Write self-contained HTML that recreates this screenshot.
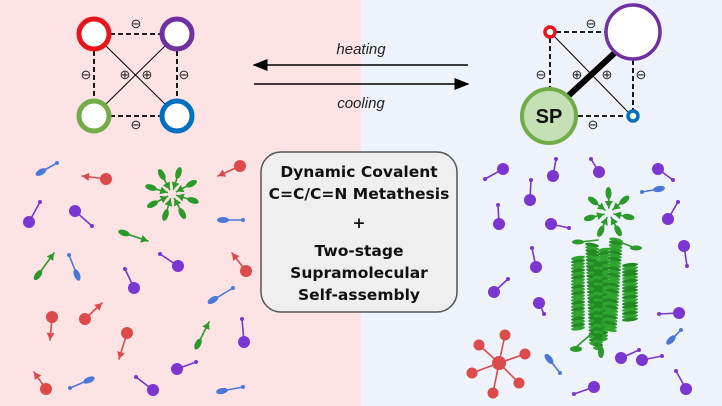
<!DOCTYPE html>
<html><head><meta charset="utf-8"><style>
html,body{margin:0;padding:0;width:722px;height:406px;overflow:hidden}
svg{display:block}
.t{font-family:"Comic Sans MS","DejaVu Sans","Liberation Sans",sans-serif;font-weight:bold;font-size:15.5px;fill:#111;text-anchor:middle}
.m{font-family:"Liberation Sans",sans-serif;font-size:13px;fill:#222;text-anchor:middle}
</style></head><body>
<svg id="s" width="722" height="406" viewBox="0 0 722 406" xmlns="http://www.w3.org/2000/svg">
<defs>
<marker id="ah" markerWidth="10" markerHeight="8" refX="9" refY="4" orient="auto"><path d="M0,0 L10,4 L0,8 Z" fill="#000"/></marker>
</defs>
<rect x="0" y="0" width="361" height="406" fill="#fde3e4"/>
<rect x="361" y="0" width="361" height="406" fill="#eef2fa"/>
<!-- left square -->
<g stroke="#000" stroke-width="1.8" stroke-dasharray="5,3" fill="none">
<line x1="110" y1="34" x2="161" y2="34"/><line x1="110" y1="116" x2="161" y2="116"/>
<line x1="94" y1="51" x2="94" y2="99"/><line x1="177" y1="51" x2="177" y2="99"/>
</g>
<g stroke="#000" stroke-width="1"><line x1="106" y1="46" x2="165" y2="104"/><line x1="165" y1="46" x2="106" y2="104"/></g>
<circle cx="94" cy="34" r="15" fill="#fff" stroke="#e8141c" stroke-width="5"/>
<circle cx="177" cy="34" r="15" fill="#fff" stroke="#7030a0" stroke-width="5"/>
<circle cx="94" cy="116" r="15" fill="#fff" stroke="#70ad47" stroke-width="5"/>
<circle cx="177" cy="116" r="15" fill="#fff" stroke="#0070c0" stroke-width="5"/>
<g class="m"><text x="136" y="28">⊖</text><text x="136" y="129">⊖</text><text x="86" y="79">⊖</text><text x="184" y="79">⊖</text><text x="125" y="79">⊕</text><text x="147" y="79">⊕</text></g>
<!-- right square -->
<g stroke="#000" stroke-width="1.8" stroke-dasharray="5,3" fill="none">
<line x1="556" y1="32" x2="612" y2="32"/><line x1="578" y1="116" x2="626" y2="116"/>
<line x1="550" y1="38" x2="550" y2="88"/><line x1="633" y1="60" x2="633" y2="110"/>
</g>
<line x1="554" y1="36" x2="628" y2="112" stroke="#000" stroke-width="1"/>
<line x1="566" y1="98" x2="620" y2="48" stroke="#000" stroke-width="6"/>
<circle cx="550" cy="32" r="5" fill="#fff" stroke="#e8141c" stroke-width="3.5"/>
<circle cx="633" cy="32" r="27" fill="#fff" stroke="#7030a0" stroke-width="3.5"/>
<circle cx="549" cy="116" r="27" fill="#c5e0b4" stroke="#70ad47" stroke-width="4"/>
<text x="549" y="123" font-family="Liberation Sans,sans-serif" font-weight="bold" font-size="20" text-anchor="middle" fill="#111">SP</text>
<circle cx="633" cy="116" r="5" fill="#fff" stroke="#0070c0" stroke-width="3.5"/>
<g class="m"><text x="591" y="28">⊖</text><text x="593" y="129">⊖</text><text x="541" y="79">⊖</text><text x="641" y="79">⊖</text><text x="577" y="79">⊕</text><text x="607" y="79">⊕</text></g>
<!-- arrows -->
<line x1="468" y1="65" x2="254" y2="65" stroke="#000" stroke-width="1.5" marker-end="url(#ah)"/>
<line x1="254" y1="84" x2="468" y2="84" stroke="#000" stroke-width="1.5" marker-end="url(#ah)"/>
<text x="361" y="54" font-family="Liberation Sans,sans-serif" font-style="italic" font-size="15" text-anchor="middle" fill="#222">heating</text>
<text x="361" y="108" font-family="Liberation Sans,sans-serif" font-style="italic" font-size="15" text-anchor="middle" fill="#222">cooling</text>
<!-- box -->
<rect x="261" y="152" width="196" height="160" rx="20" fill="#efefef" stroke="#555" stroke-width="1.5"/>
<text class="t" x="359" y="177">Dynamic Covalent</text>
<text class="t" x="359" y="199">C=C/C=N Metathesis</text>
<text class="t" x="359" y="228">+</text>
<text class="t" x="359" y="256">Two-stage</text>
<text class="t" x="359" y="278">Supramolecular</text>
<text class="t" x="359" y="300">Self-assembly</text>
<g id="mol"></g>
</svg>
<script>
var g=document.getElementById('mol'),NS='http://www.w3.org/2000/svg';
function el(t,a){var e=document.createElementNS(NS,t);for(var k in a)e.setAttribute(k,a[k]);g.appendChild(e);return e;}
function stick(x1,y1,x2,y2,c,w){el('line',{x1:x1,y1:y1,x2:x2,y2:y2,stroke:c,'stroke-width':w||1.6,'stroke-linecap':'round'});}
var P='#7b35d0',R='#dc4a4a',B='#4a78d8',G='#2b9a2b';
function purple(bx,by,dx,dy){stick(bx,by,dx,dy,P);el('circle',{cx:dx,cy:dy,r:2,fill:P});el('circle',{cx:bx,cy:by,r:6,fill:P});}
function red(bx,by,ax,ay){stick(bx,by,ax,ay,R);var a=Math.atan2(ay-by,ax-bx)*180/Math.PI;el('path',{d:'M0,0 L-7,-4 L-7,4 Z',fill:R,transform:'translate('+ax+','+ay+') rotate('+a+')'});el('circle',{cx:bx,cy:by,r:6,fill:R});}
function blue(ex,ey,dx,dy){stick(ex,ey,dx,dy,B);el('circle',{cx:dx,cy:dy,r:2,fill:B});var a=Math.atan2(dy-ey,dx-ex)*180/Math.PI;el('ellipse',{cx:ex,cy:ey,rx:6,ry:3,fill:B,transform:'rotate('+a+' '+ex+' '+ey+')'});}
function green(ex,ey,ax,ay){stick(ex,ey,ax,ay,G);var a=Math.atan2(ay-ey,ax-ex)*180/Math.PI;el('path',{d:'M0,0 L-7,-4 L-7,4 Z',fill:G,transform:'translate('+ax+','+ay+') rotate('+a+')'});el('ellipse',{cx:ex,cy:ey,rx:6,ry:3,fill:G,transform:'rotate('+a+' '+ex+' '+ey+')'});}
// left
blue(41,172,57,163);red(106,179,82,176);red(240,166,218,176);
purple(29,222,40,202);purple(75,211,92,226);green(124,233,148,241);blue(223,220,243,220);
green(38,275,54,253);blue(77,275,69,255);purple(178,266,160,254);purple(134,288,125,269);
red(246,271,232,253);blue(213,300,233,288);red(52,317,50,340);red(85,319,102,303);
red(127,333,119,359);green(198,344,209,322);purple(244,342,242,319);red(46,389,34,372);
blue(89,380,70,388);purple(153,390,136,377);purple(177,369,196,362);blue(222,391,243,387);
// left green star
for(var i=0;i<8;i++){var a=i*Math.PI/4+0.3,cx=172,cy=194;green(cx+22*Math.cos(a),cy+22*Math.sin(a),cx+5*Math.cos(a),cy+5*Math.sin(a));}
// right purple
[[503,169,485,179],[553,176,556,159],[599,172,591,159],[658,169,673,180],[530,200,531,180],[499,224,498,205],[551,224,569,228],[668,219,678,202],[684,246,687,266],[536,267,532,248],[494,292,508,279],[539,303,544,314],[679,313,659,314],[621,358,639,350],[642,360,662,356],[594,387,574,394],[686,389,676,371]].forEach(function(p){purple(p[0],p[1],p[2],p[3]);});
blue(659,189,642,192);blue(671,340,681,330);blue(549,359,560,373);
// red star
var rb=[[505,335],[479,345],[525,354],[472,373],[519,383],[493,393]];
rb.forEach(function(b){stick(499,363,b[0],b[1],R);el('circle',{cx:b[0],cy:b[1],r:5.5,fill:R});});
el('circle',{cx:499,cy:363,r:7,fill:R});
// right green small star
for(var i=0;i<7;i++){var a=i*2*Math.PI/7+0.2,cx=609,cy=213;green(cx+20*Math.cos(a),cy+20*Math.sin(a),cx+5*Math.cos(a),cy+5*Math.sin(a));}
// bundle
function col(x,y0,y1,rx,tilt,lean){for(var y=y0;y<=y1;y+=3.2){var t=(y-y0)/(y1-y0);var xx=x+lean*t;el('ellipse',{cx:xx,cy:y,rx:rx,ry:2,fill:(Math.round(y)%2?'#238a23':'#2fa52f'),transform:'rotate('+tilt+' '+xx+' '+y+')'});}}
col(578,258,330,7,-8,0);col(592,245,345,7,10,4);col(604,250,340,6,-10,-2);col(616,240,330,7,12,-6);col(630,265,320,8,-6,0);col(598,265,350,5,5,0);
stick(590,335,575,348,G);el('ellipse',{cx:576,cy:349,rx:6,ry:3,fill:G});stick(598,340,600,353,G);el('ellipse',{cx:601,cy:352,rx:3,ry:6,fill:G});
stick(598,240,580,242,G);el('ellipse',{cx:578,cy:242,rx:6,ry:2.5,fill:G});stick(615,240,635,248,G);el('ellipse',{cx:636,cy:248,rx:6,ry:2.5,fill:G});
</script>
</body></html>
